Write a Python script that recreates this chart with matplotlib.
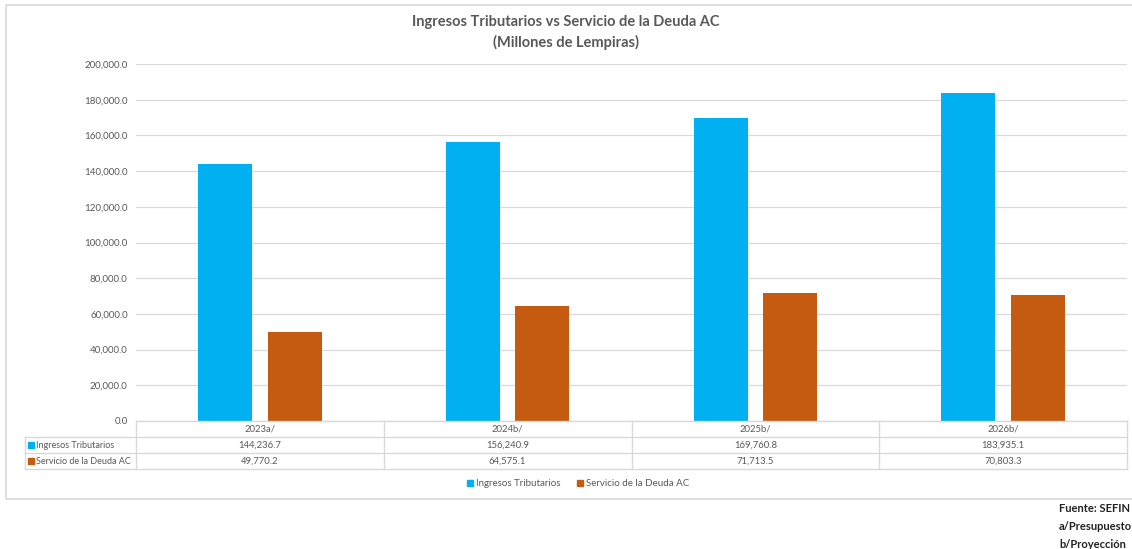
import matplotlib
matplotlib.use("Agg")
import matplotlib.pyplot as plt
from matplotlib.patches import Rectangle
from matplotlib.lines import Line2D
import numpy as np

categories = ["2023a/", "2024b/", "2025b/", "2026b/"]
ingresos = [144236.7, 156240.9, 169760.8, 183935.1]
servicio = [49770.2, 64575.1, 71713.5, 70803.3]
series_names = ["Ingresos Tributarios", "Servicio de la Deuda AC"]
yticks = [0, 20000, 40000, 60000, 80000, 100000, 120000, 140000, 160000, 180000, 200000]
notes = ["Fuente: SEFIN", "a/Presupuesto", "b/Proyección"]

BLUE = "#00B0F0"
ORANGE = "#C55A11"
TXT = "#595959"
GRID = "#d9d9d9"

plt.rcParams["font.family"] = ["Lato", "DejaVu Sans"]

W, H = 1132, 549
fig = plt.figure(figsize=(W / 100, H / 100), dpi=100)


def fx(px):
    return px / W


def fy(py):
    return 1 - py / H


# outer chart frame
fig.add_artist(Rectangle((fx(6), fy(499)), fx(1140) - fx(6), fy(5) - fy(499),
                         transform=fig.transFigure, fill=False, ec="#d9d9d9", lw=1.2))

L, R, T, B = 136, 1127, 64, 421
ax = fig.add_axes([fx(L), fy(B), fx(R) - fx(L), fy(T) - fy(B)])
x = np.arange(len(categories))
bw = 0.218
off = 0.14
ax.bar(x - off, ingresos, bw, color=BLUE, zorder=3)
ax.bar(x + off, servicio, bw, color=ORANGE, zorder=3)
ax.set_xlim(-0.5, len(categories) - 0.5)
ax.set_ylim(0, 200000)
ax.set_yticks(yticks)
ax.set_yticklabels([f"{v:,.1f}" for v in yticks], fontsize=7, color=TXT)
ax.tick_params(axis="y", length=0, pad=6)
ax.set_xticks([])
ax.grid(axis="y", color=GRID, lw=0.9, zorder=0)
for s in ax.spines.values():
    s.set_visible(False)

fig.text(0.5, fy(22), "Ingresos Tributarios vs Servicio de la Deuda AC",
         ha="center", va="center", fontsize=10.5, fontweight="bold", color=TXT)
fig.text(0.5, fy(42), "(Millones de Lempiras)",
         ha="center", va="center", fontsize=10.5, fontweight="bold", color=TXT)

# data table below the axis
rows = [421, 437, 453, 469]
left_tbl = 25
cat_w = (R - L) / len(categories)


def hline(y, x0, x1):
    fig.add_artist(Line2D([fx(x0), fx(x1)], [fy(y), fy(y)], transform=fig.transFigure,
                          color=GRID, lw=1.0))


def vline(xp, y0, y1):
    fig.add_artist(Line2D([fx(xp), fx(xp)], [fy(y0), fy(y1)], transform=fig.transFigure,
                          color=GRID, lw=1.0))


hline(rows[0], L, R)
for y in rows[1:]:
    hline(y, left_tbl, R)
vline(left_tbl, rows[1], rows[3])
for i in range(len(categories) + 1):
    vline(L + i * cat_w, rows[0], rows[3])

for i, c in enumerate(categories):
    cx = L + (i + 0.5) * cat_w
    fig.text(fx(cx), fy((rows[0] + rows[1]) / 2), c, ha="center", va="center",
             fontsize=6.8, color=TXT)
    fig.text(fx(cx), fy((rows[1] + rows[2]) / 2), f"{ingresos[i]:,.1f}", ha="center",
             va="center", fontsize=6.8, color=TXT)
    fig.text(fx(cx), fy((rows[2] + rows[3]) / 2), f"{servicio[i]:,.1f}", ha="center",
             va="center", fontsize=6.8, color=TXT)

for j, (name, col) in enumerate(zip(series_names, [BLUE, ORANGE])):
    yc = (rows[1 + j] + rows[2 + j]) / 2
    fig.add_artist(Rectangle((fx(28), fy(yc + 3)), fx(6), fy(yc - 3) - fy(yc + 3),
                             transform=fig.transFigure, color=col))
    fig.text(fx(36), fy(yc), name, ha="left", va="center", fontsize=6.5, color=TXT)

# legend
leg = [(467, BLUE, series_names[0]), (577, ORANGE, series_names[1])]
for xp, col, name in leg:
    fig.add_artist(Rectangle((fx(xp), fy(486)), fx(6), fy(480) - fy(486),
                             transform=fig.transFigure, color=col))
    fig.text(fx(xp + 9), fy(483), name, ha="left", va="center", fontsize=7, color=TXT)

for k, n in enumerate(notes):
    fig.text(fx(1059), fy(509 + k * 17.5), n, ha="left", va="center", fontsize=8,
             fontweight="bold", color="#222222")

fig.savefig("out.png", dpi=100)
